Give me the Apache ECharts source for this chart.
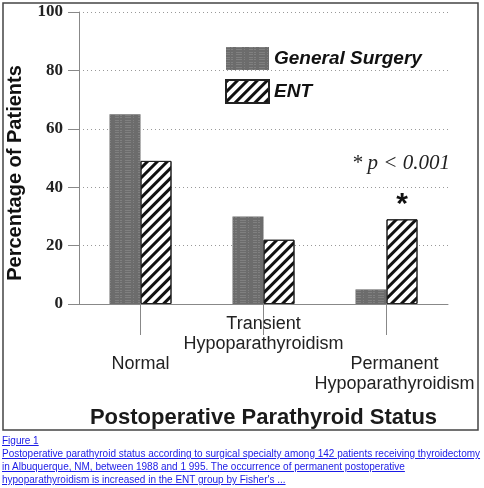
<!DOCTYPE html>
<html>
<head>
<meta charset="utf-8">
<title>Postoperative Parathyroid Status</title>
<script src="https://cdn.jsdelivr.net/npm/echarts@6/dist/echarts.min.js"></script>
<style>
  body { margin: 0; background: #fff; }
  #main { position: absolute; left: 0; top: 0; width: 484px; height: 488px; }
  #cap { position: absolute; left: 2px; top: 434px; font: 10px "Liberation Sans", Arial, sans-serif;
         line-height: 13px; color: #1a1ae6; white-space: nowrap; }
  #cap span { text-decoration: underline; }
</style>
</head>
<body>
<div id="main"></div>
<div id="cap">
  <span>Figure 1</span><br>
  <span>Postoperative parathyroid status according to surgical specialty among 142 patients receiving thyroidectomy</span><br>
  <span>in Albuquerque, NM, between 1988 and 1 995. The occurrence of permanent postoperative</span><br>
  <span>hypoparathyroidism is increased in the ENT group by Fisher's ...</span>
</div>
<script>
// data (percent of patients)
var categories = ['Normal', 'Transient\nHypoparathyroidism', 'Permanent\nHypoparathyroidism'];
var seriesNames = ['General Surgery', 'ENT'];
var generalSurgery = [65, 30, 5];
var ent = [49, 22, 29];
var yTicks = [0, 20, 40, 60, 80, 100];
var starIndex = 2; // significant difference marked with *

// staggered label rows (layout only)
var labelRows = [2, 0, 2];

var myChart = echarts.init(document.getElementById('main'));

var sans = '"Liberation Sans", Arial, sans-serif';
var serif = '"Liberation Serif", "Times New Roman", serif';

var entData = ent.map(function (v, i) {
    if (i !== starIndex) return v;
    return {
        value: v,
        label: {
            show: true, position: 'top', formatter: '*', distance: 0,
            fontSize: 30, fontWeight: 'bold', fontFamily: sans, color: '#111'
        }
    };
});

var option = {
    backgroundColor: '#fff',
    animation: false,
    grid: { left: 79, right: 36, top: 12, bottom: 184, containLabel: false, outerBoundsMode: 'none' },
    legend: {
        data: seriesNames,
        orient: 'vertical',
        left: 220, top: 42,
        itemWidth: 43, itemHeight: 23, itemGap: 9,
        icon: 'rect',
        textStyle: { fontSize: 19, fontWeight: 'bold', fontStyle: 'italic', fontFamily: sans, color: '#111' }
    },
    xAxis: {
        type: 'category',
        data: categories,
        name: 'Postoperative Parathyroid Status',
        nameLocation: 'middle',
        nameGap: 103,
        nameTextStyle: { fontSize: 22, fontWeight: 'bold', fontFamily: sans, color: '#1a1a1a' },
        axisLine: { lineStyle: { color: '#888', width: 1 } },
        axisTick: { show: true, alignWithLabel: true, length: 31, lineStyle: { color: '#888' } },
        axisLabel: {
            interval: 0, margin: 10, fontSize: 18, lineHeight: 20, fontFamily: sans, color: '#222',
            formatter: function (value, idx) {
                var pre = new Array(labelRows[idx] + 1).join('\n');
                if (idx === 2) {
                    return pre + value.split('\n').map(function (s) { return '{r|' + s + '}'; }).join('\n');
                }
                return pre + value;
            },
            rich: {
                r: { fontSize: 18, lineHeight: 20, fontFamily: sans, color: '#222', padding: [0, 0, 0, 16] }
            }
        }
    },
    yAxis: {
        type: 'value',
        min: yTicks[0], max: yTicks[yTicks.length - 1], interval: yTicks[1] - yTicks[0],
        name: 'Percentage of Patients',
        nameLocation: 'middle',
        nameGap: 54,
        nameTextStyle: { fontSize: 20, fontWeight: 'bold', fontFamily: sans, color: '#111', padding: [0, 30, 0, 0] },
        axisLine: { show: true, lineStyle: { color: '#888', width: 1 } },
        axisTick: { show: true, length: 11, lineStyle: { color: '#888' } },
        axisLabel: { margin: 16, fontSize: 17, fontWeight: 'bold', fontFamily: serif, color: '#222' },
        splitLine: { show: true, lineStyle: { color: '#999', type: [1, 3], width: 1 } }
    },
    series: [{
        name: seriesNames[0],
        type: 'bar',
        barWidth: 31,
        barGap: '0%',
        data: generalSurgery,
        itemStyle: {
            color: '#6c6c6c',
            decal: {
                symbol: 'rect', color: 'rgba(165,165,165,0.35)',
                dashArrayX: [[4, 1, 2, 3, 6, 2, 1, 4]], dashArrayY: [1, 1, 1, 2], symbolSize: 1
            }
        }
    }, {
        name: seriesNames[1],
        type: 'bar',
        barWidth: 31,
        data: entData,
        itemStyle: {
            color: '#fff',
            borderColor: '#222',
            borderWidth: 1,
            decal: {
                symbol: 'rect', color: '#111',
                dashArrayX: [1, 0], dashArrayY: [3, 4], rotation: -Math.PI / 4, symbolSize: 1
            }
        }
    }],
    graphic: [{
        type: 'rect',
        shape: { x: 3, y: 3, width: 475, height: 427 },
        style: { fill: 'none', stroke: '#444', lineWidth: 1.5 },
        silent: true
    }, {
        type: 'text',
        right: 34, top: 153,
        style: { text: '* p < 0.001', font: 'italic 21px ' + serif, fill: '#222' }
    }]
};

myChart.setOption(option);
</script>
</body>
</html>
